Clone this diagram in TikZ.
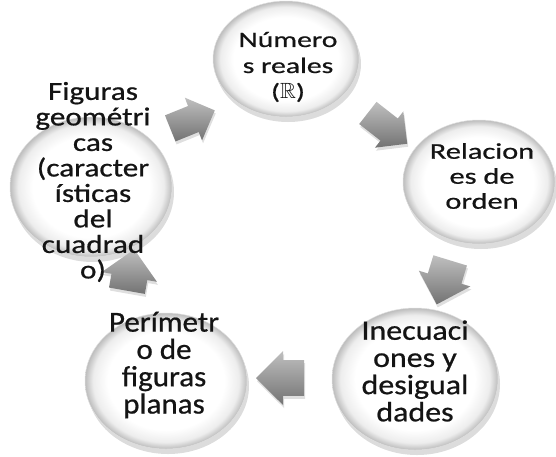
\documentclass[tikz,border=0pt]{standalone}
\usepackage{fontspec}
\usepackage{amssymb}
\usetikzlibrary{shapes.geometric, shapes.arrows, shadows}
\newfontfamily\smartfont[FakeBold=0.7]{Carlito}
\pgfdeclareradialshading{discshade}{\pgfpoint{0bp}{0bp}}{%
  color(0bp)=(white); color(18bp)=(white); color(22.5bp)=(black!7);
  color(25bp)=(black!26); color(50bp)=(black!26)}
\tikzset{
  disc/.style={ellipse, draw=black!12, line width=0.5pt,
    shading=discshade, inner sep=0,
    drop shadow={shadow xshift=2pt, shadow yshift=-5pt, opacity=0.3, fill=black!45}},
  cyclearrow/.style n args={3}{single arrow, draw=none,
    minimum height=#1, minimum width=#2, inner xsep=0, inner ysep=#3,
    single arrow tip angle=90,
    top color=black!25, bottom color=black!55,
    drop shadow={shadow xshift=1pt, shadow yshift=-3pt, opacity=0.25, fill=black!50}},
  disctext/.style n args={3}{align=center, inner sep=0, text=black!92,
    font=\smartfont\addfontfeature{FakeStretch=#3}\fontsize{#1}{#2}\selectfont}
}
\begin{document}
\begin{tikzpicture}[x=1pt, y=-1pt]
  \useasboundingbox (0,0) rectangle (556,456);

  \node[disc, minimum width=146pt, minimum height=116pt] (reales) at (286,59) {};
  \node[disc, minimum width=152pt, minimum height=124pt] (orden) at (479,182) {};
  \node[disc, minimum width=166pt, minimum height=142pt] (inecuaciones) at (415,379) {};
  \node[disc, minimum width=162pt, minimum height=136pt] (perimetro) at (166,381) {};
  \node[disc, minimum width=162pt, minimum height=140pt] (figuras) at (91,187) {};

  % arrows of the cycle
  \node[cyclearrow={48pt}{46pt}{11pt}, rotate=22] (arrow1) at (186,122) {};
  \node[cyclearrow={50pt}{46pt}{11pt}, rotate=-38] (arrow2) at (382,124) {};
  \node[cyclearrow={46pt}{54pt}{13pt}, rotate=-107] (arrow3) at (446,274) {};
  \node[cyclearrow={48pt}{54pt}{14pt}, rotate=180] (arrow4) at (289,378) {};
  \node[cyclearrow={42pt}{56pt}{13pt}, rotate=80] (arrow5) at (129,279) {};

  \node[disctext={22pt}{26pt}{1.35}] (reales text) at (288,67) {Número\\s reales\\($\mathbb{R}$)};
  \node[disctext={22.5pt}{25pt}{1.35}] (orden text) at (482,176) {Relacion\\es de\\orden};
  \node[disctext={28pt}{27.2pt}{1.14}] (inecuaciones text) at (415,371) {Inecuaci\\ones y\\desigual\\dades};
  \node[disctext={29pt}{27.3pt}{1.07}] (perimetro text) at (164,365) {Perímetr\\o de\\figuras\\planas};
  \node[disctext={26pt}{25.5pt}{1.2}] (figuras text) at (93,182) {Figuras\\geométri\\cas\\(caracter\\ísticas\\del\\cuadrad\\o)};
\end{tikzpicture}
\end{document}
